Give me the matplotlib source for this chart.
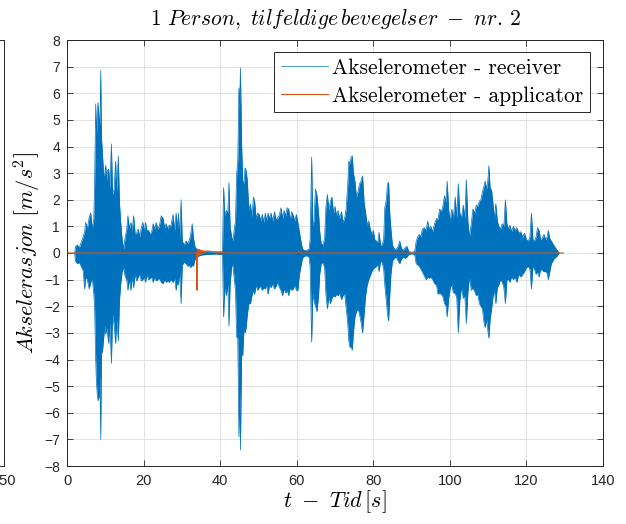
import matplotlib
matplotlib.use("Agg")
import matplotlib.pyplot as plt
import numpy as np

# Receiver accelerometer: time [s] with the upper and lower excursion of the signal
t_recv = [2.0, 2.2, 2.7, 3.2, 3.7, 4.2, 4.6, 4.9, 5.3, 5.8, 6.2, 6.6, 7.0, 7.2, 7.5, 7.7, 7.9, 8.1, 8.4, 8.6,
          8.8, 9.0, 9.3, 9.6, 9.9, 10.1, 10.4, 10.6, 10.9, 11.2, 11.6, 11.9, 12.3, 12.7, 13.0, 13.4, 13.7, 14.0,
          14.4, 14.8, 15.2, 15.6, 15.9, 16.3, 16.7, 17.0, 17.4, 17.8, 18.2, 18.6, 19.0, 19.4, 19.8, 20.2, 20.5,
          20.9, 21.3, 21.7, 22.1, 22.5, 22.9, 23.3, 23.7, 24.1, 24.6, 25.1, 25.5, 25.9, 26.3, 26.7, 27.1, 27.7,
          28.1, 28.5, 28.9, 29.1, 29.4, 29.8, 30.1, 30.6, 31.1, 31.6, 32.0, 32.3, 32.7, 33.0, 33.4, 33.8, 34.3,
          35.0, 36.0, 37.5, 39.0, 40.6,
          40.9, 41.2, 41.6, 42.0, 42.3, 42.6, 43.0, 43.3, 43.7, 44.0, 44.3, 44.6, 44.9, 45.1, 45.3, 45.6, 45.9,
          46.2, 46.5, 46.8, 47.1, 47.5, 47.9, 48.3, 48.7, 49.0, 49.4, 49.8, 50.2, 50.6, 51.0, 51.4, 51.8, 52.1,
          52.5, 52.9, 53.3, 53.7, 54.2, 54.6, 55.0, 55.5, 55.9, 56.3, 56.7, 57.1, 57.5, 57.9, 58.3, 58.7, 59.1,
          59.5, 59.9, 60.3, 60.7, 61.1, 61.5, 62.0, 62.6, 63.2,
          63.5, 63.9, 64.2, 64.5, 64.9, 65.3, 65.7, 66.0, 66.4, 66.9, 67.3, 67.6, 68.0, 68.4, 68.8, 69.2, 69.6,
          70.0, 70.4, 70.8, 71.2, 71.7, 72.1, 72.5, 72.9, 73.3, 73.6, 73.9, 74.2, 74.5, 74.8, 75.2, 75.6, 76.0,
          76.4, 76.8, 77.2, 77.6, 78.0, 78.4, 78.8, 79.2, 79.6, 80.0, 80.4, 80.8, 81.2, 81.5, 81.9, 82.3, 82.7,
          83.0, 83.4, 83.7, 84.0, 84.3, 84.6, 85.0, 85.5, 86.0, 86.5, 86.9, 87.3, 87.8, 88.3, 88.8, 89.3, 90.0,
          90.8, 91.2, 91.6, 92.0, 92.4, 92.8, 93.3, 93.8, 94.2, 94.6, 95.0, 95.5, 96.0, 96.5, 96.9, 97.3, 97.7,
          98.1, 98.6, 99.0, 99.3, 99.7, 100.1, 100.5, 100.9, 101.4, 101.8, 102.2, 102.6, 103.0, 103.5, 103.9,
          104.3, 104.7, 105.1, 105.6, 106.0, 106.5, 106.9, 107.3, 107.7, 108.1, 108.5, 108.9, 109.2, 109.6,
          109.9, 110.2, 110.5, 110.9, 111.3, 111.6, 112.0, 112.4, 112.8, 113.2, 113.7, 114.1, 114.5, 114.9,
          115.3, 115.7, 116.1, 116.6, 117.0, 117.5, 118.0, 118.5, 119.0, 119.5, 120.0, 120.5, 120.9, 121.3,
          121.7, 122.1, 122.5, 122.9, 123.3, 123.7, 124.1, 124.6, 125.0, 125.4, 125.7, 126.1, 126.5, 126.9,
          127.3, 127.8, 128.3, 128.6]

recv_hi = [0.0, 0.25, 0.3, 0.2, 0.4, 0.6, 0.8, 1.15, 0.9, 1.35, 1.5, 0.9, 1.3, 2.5, 5.6, 4.4, 5.15, 5.65, 5.0, 4.8,
           6.85, 4.35, 3.6, 2.9, 3.0, 3.3, 2.7, 3.1, 3.15, 2.4, 4.1, 2.2, 2.4, 3.45, 2.3, 3.65, 1.9, 1.2,
           0.5, 0.15, 0.6, 0.9, 1.4, 0.9, 1.15, 0.8, 1.4, 0.7, 0.75, 0.9, 0.6, 0.95, 1.15, 0.8, 1.15,
           0.85, 0.85, 0.7, 0.8, 1.1, 0.9, 1.15, 0.9, 1.0, 1.4, 1.3, 0.95, 1.1, 0.9, 1.05, 1.0, 1.45,
           0.85, 1.5, 0.9, 1.5, 0.6, 2.0, 0.45, 0.3, 0.45, 0.35, 0.5, 0.7, 1.1, 0.6, 0.25, 0.15, 0.12,
           0.08, 0.06, 0.05, 0.04, 0.05,
           2.45, 1.4, 1.6, 1.5, 2.65, 1.0, 0.6, 0.45, 0.9, 1.2, 2.95, 3.45, 6.2, 5.6, 6.95, 4.1, 2.7,
           2.6, 3.2, 3.1, 2.7, 1.6, 1.85, 1.35, 2.1, 1.95, 1.3, 1.5, 1.45, 1.2, 1.45, 1.15, 1.5, 1.2,
           1.5, 1.3, 1.5, 1.2, 1.55, 1.25, 1.3, 1.45, 1.7, 1.3, 1.6, 1.4, 1.7, 1.65, 1.25, 1.55, 1.4,
           1.2, 1.45, 1.15, 0.8, 0.45, 0.15, 0.1, 0.1, 0.15,
           0.5, 3.6, 1.0, 1.2, 2.4, 2.15, 1.5, 0.8, 0.35, 0.3, 0.6, 1.7, 2.2, 1.6, 1.95, 2.1, 1.5,
           1.75, 1.4, 1.6, 1.3, 1.55, 1.15, 1.3, 1.65, 2.5, 3.45, 3.35, 3.6, 3.65, 3.0, 2.7, 2.1, 2.3,
           2.6, 2.7, 2.9, 1.9, 1.5, 1.05, 1.2, 0.9, 0.7, 0.85, 0.5, 0.45, 0.4, 0.78, 0.3, 0.3, 0.5,
           1.7, 2.0, 2.6, 2.65, 1.5, 0.9, 0.3, 0.15, 0.15, 0.25, 0.45, 0.2, 0.1, 0.2, 0.25, 0.05, 0.03,
           0.05, 0.45, 0.6, 0.7, 0.6, 0.9, 0.95, 0.85, 1.2, 0.9, 1.0, 0.8, 1.1, 1.3, 1.25, 1.65, 1.55,
           1.7, 2.15, 1.9, 2.7, 1.6, 1.2, 1.65, 1.3, 2.1, 1.3, 2.6, 1.5, 1.3, 1.8, 1.3,
           2.75, 1.2, 0.6, 1.1, 1.65, 1.5, 1.8, 1.75, 1.95, 2.0, 2.3, 2.5, 2.7, 2.4,
           2.7, 3.28, 2.45, 2.35, 1.8, 1.3, 1.85, 1.2, 1.0, 0.9, 1.1, 1.0, 2.0, 1.1,
           0.9, 1.05, 0.8, 1.0, 0.85, 0.95, 0.75, 0.8, 0.6, 0.75, 0.5, 0.45, 0.6, 1.5,
           0.5, 0.45, 0.6, 0.95, 0.85, 0.5, 0.55, 0.7, 0.5, 0.6, 0.85, 0.55, 0.45, 0.35,
           0.25, 0.15, 0.05, 0.0]

recv_lo = [0.0, -0.3, -0.4, -0.35, -0.5, -0.65, -1.35, -0.9, -1.0, -1.35, -1.1, -0.95, -1.55, -2.0, -4.05, -4.9,
           -5.3, -5.55, -5.4, -4.6, -7.0, -3.8, -3.65, -3.15, -2.7, -3.05, -2.8, -3.1, -3.4, -2.6, -4.15, -2.3,
           -2.7, -3.4, -2.5, -3.3, -1.8, -1.2, -0.7, -0.55, -0.9, -1.0, -1.4, -1.0, -1.4, -0.9, -1.3, -0.8,
           -1.05, -0.9, -0.8, -1.05, -1.0, -0.9, -1.1, -0.8, -1.0, -0.95, -0.9, -1.1, -0.9, -1.05, -1.0,
           -0.95, -1.1, -1.15, -1.0, -1.1, -1.05, -1.1, -1.0, -1.1, -0.95, -1.4, -1.0, -1.2, -0.7, -1.9,
           -0.45, -0.35, -0.4, -0.5, -0.45, -0.55, -0.45, -0.5, -0.25, -0.2, -0.12, -0.08, -0.06, -0.05,
           -0.04, -0.05,
           -2.4, -1.3, -1.6, -1.2, -2.75, -1.2, -0.5, -0.45, -1.0, -1.4, -3.15, -3.2, -6.9, -5.15, -7.4,
           -3.8, -3.85, -2.9, -3.0, -2.8, -2.3, -1.9, -1.9, -1.6, -1.4, -1.55, -1.2, -1.4, -1.3, -1.25,
           -1.4, -1.3, -1.35, -1.2, -1.55, -1.2, -1.3, -1.15, -1.35, -1.25, -1.1, -1.3, -1.4, -1.6, -1.35,
           -1.5, -1.4, -1.6, -1.3, -1.4, -1.35, -1.2, -1.4, -1.4, -0.8, -0.5, -0.2, -0.12, -0.1, -0.15,
           -0.5, -3.35, -1.5, -1.8, -2.0, -2.2, -1.6, -0.8, -0.4, -0.35, -0.6, -1.5, -2.1, -1.65, -1.9,
           -1.7, -1.6, -1.65, -1.55, -1.6, -1.5, -1.75, -1.6, -1.5, -2.05, -2.6, -3.3, -3.55, -3.5, -3.65,
           -3.0, -2.4, -2.2, -2.1, -2.3, -2.6, -3.0, -2.3, -1.6, -1.2, -1.0, -0.85, -0.7, -0.6, -0.55,
           -0.5, -0.45, -0.7, -0.3, -0.35, -0.6, -1.2, -1.8, -2.3, -2.55, -1.6, -0.8, -0.3, -0.2, -0.15,
           -0.3, -0.4, -0.25, -0.15, -0.2, -0.15, -0.05, -0.03, -0.05, -0.4, -0.45, -0.5, -0.6, -0.7,
           -0.85, -1.0, -0.9, -0.95, -0.9, -1.0, -1.15, -1.2, -1.55, -1.5, -1.55, -1.6, -1.9, -2.0, -2.4,
           -1.7, -1.3, -1.2, -1.5, -1.5, -1.7, -3.0, -1.8, -1.3, -1.7, -1.6, -2.65, -1.5, -0.9, -1.4,
           -1.3, -1.45, -1.6, -1.55, -1.9, -2.0, -2.1, -2.6, -2.8, -2.5, -2.9, -3.2, -2.5, -2.1, -1.6,
           -1.4, -1.9, -1.3, -1.2, -1.0, -1.1, -1.3, -1.9, -1.0, -1.0, -1.1, -0.9, -1.0, -0.9, -1.1,
           -0.8, -0.9, -0.8, -0.7, -0.55, -0.5, -0.6, -1.35, -0.5, -0.6, -0.8, -0.7, -0.9, -0.6, -0.65,
           -0.7, -0.7, -0.75, -1.0, -0.7, -0.4, -0.3, -0.2, -0.15, -0.05, 0.0]

# Applicator accelerometer: nearly flat, one knock around 34 s
t_app = [0.0, 33.8, 33.95, 34.05, 34.15, 34.3, 34.45, 34.6, 34.75, 34.9, 35.1, 35.3, 35.5, 35.8, 36.1,
         36.5, 37.0, 38.0, 39.5, 41.0, 42.5, 60.0, 60.6, 61.2, 129.7]
app_acc = [0.0, 0.0, -1.4, 0.15, -0.12, 0.13, -0.08, 0.12, -0.06, 0.11, -0.04, 0.1, -0.02, 0.09, 0.0,
           0.08, 0.07, 0.05, 0.03, 0.01, 0.0, 0.0, 0.05, 0.0, 0.0]

x_ticks = list(range(0, 141, 20))
y_ticks = list(range(-8, 9, 1))

BLUE = "#0072BD"
ORANGE = "#D95319"
INK = "#262626"

plt.rcParams["mathtext.fontset"] = "cm"
plt.rcParams["font.family"] = ["Liberation Sans", "DejaVu Sans"]

W, H = 626, 524
fig = plt.figure(figsize=(W / 100, H / 100), dpi=100)

# neighbouring panel, only its right edge shows
ax0 = fig.add_axes([(4 - 300) / W, 1 - 466 / H, 300 / W, 426 / H])
ax0.set_xlim(0, 150)
ax0.set_ylim(0, 426)
ax0.set_xticks([150])
ax0.set_yticks([388.3, 339.3, 291.7, 243.7, 196.0, 148.3, 101.0, 52.7])
ax0.set_yticklabels([])
ax0.tick_params(direction="in", length=4, width=0.6, colors=INK, labelsize=10.5, pad=6)
for s in ax0.spines.values():
    s.set_color(INK)
    s.set_linewidth(0.7)

ax = fig.add_axes([67 / W, 1 - 466 / H, 536 / W, 426 / H])
ax.set_xlim(0, 140)
ax.set_ylim(-8, 8)
ax.set_xticks(x_ticks)
ax.set_yticks(y_ticks)
ax.grid(True, color="#DEDEDE", linewidth=0.6)
ax.set_axisbelow(True)

ax.fill_between(t_recv, recv_lo, recv_hi, color=BLUE, linewidth=0)
h_recv, = ax.plot(t_recv, recv_hi, color=BLUE, linewidth=0.5)
ax.plot(t_recv, recv_lo, color=BLUE, linewidth=0.5)
h_app, = ax.plot(t_app, app_acc, color=ORANGE, linewidth=0.8)

ax.tick_params(direction="in", top=True, right=True, length=4, width=0.6,
               colors=INK, labelsize=10.5, pad=6)
ax.tick_params(axis="y", labelsize=10, pad=5)
for s in ax.spines.values():
    s.set_color(INK)
    s.set_linewidth(0.7)

ax.set_title(r"$1\ Person,\ tilfeldige\,bevegelser\ -\ nr.\,2$", fontsize=15.5, color="black", pad=11)
ax.set_xlabel(r"$t\ -\ Tid\,[s]$", fontsize=16, color="black")
ax.xaxis.set_label_coords(0.5, -0.052)
ax.xaxis.label.set_verticalalignment("top")
ax.set_ylabel(r"$Akselerasjon\ \left[m/s^2\right]$", fontsize=16, color="black")
ax.yaxis.set_label_coords(-0.044, 0.5)

leg = ax.legend([h_recv, h_app], ["Akselerometer - receiver", "Akselerometer - applicator"],
                loc="upper right", bbox_to_anchor=(0.9757, 0.9718), borderaxespad=0,
                prop={"family": "cmr10", "size": 15.5}, fancybox=False, framealpha=1,
                edgecolor=INK, handlelength=2.2, borderpad=0.3, labelspacing=0.38, handletextpad=0.2)
leg.get_frame().set_linewidth(0.7)

fig.savefig("out.png", dpi=100)
